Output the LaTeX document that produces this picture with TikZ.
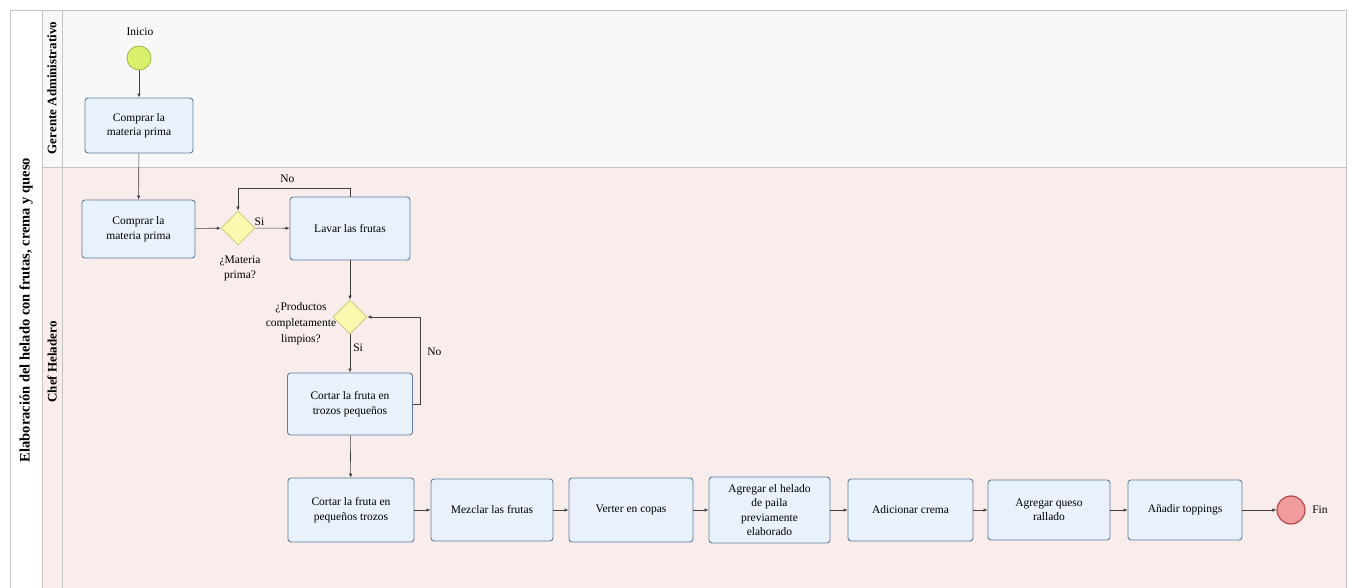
\documentclass[tikz,border=0pt]{standalone}
\usepackage{fontspec}
\setmainfont{Liberation Serif}
\usetikzlibrary{shapes.geometric,arrows.meta}
\definecolor{boxfill}{HTML}{E8F1FC}
\definecolor{boxline}{HTML}{5F7D9C}
\definecolor{gatefill}{HTML}{FBF8B0}
\definecolor{gateline}{HTML}{C9C27A}
\definecolor{startfill}{HTML}{D9F06C}
\definecolor{startline}{HTML}{98B848}
\definecolor{endfill}{HTML}{F09C9C}
\definecolor{endline}{HTML}{B84848}
\definecolor{laneA}{HTML}{F8F8F8}
\definecolor{laneB}{HTML}{F9EDEC}
\definecolor{poolline}{HTML}{C4C4C4}
\definecolor{flowline}{HTML}{404040}
\tikzset{
  task/.style={draw=boxline, fill=boxfill, rounded corners=3pt, line width=0.9pt,
    align=center, font=\fontsize{11.5}{14.5}\selectfont, inner sep=1pt},
  gate/.style={diamond, draw=gateline, fill=gatefill, line width=0.8pt,
    minimum width=34pt, minimum height=34pt, inner sep=0pt},
  startev/.style={circle, draw=startline, fill=startfill, line width=0.8pt, minimum size=24pt, inner sep=0pt},
  endev/.style={circle, draw=endline, fill=endfill, line width=1.2pt, minimum size=28pt, inner sep=0pt},
  flow/.style={draw=flowline, line width=0.6pt, -{Latex[length=4pt,width=3.5pt]}},
  lbl/.style={font=\fontsize{11.5}{15}\selectfont, align=center, inner sep=1pt},
  lanetitle/.style={font=\bfseries\fontsize{13}{15}\selectfont, rotate=90}
}
\begin{document}
\begin{tikzpicture}[x=1pt,y=-1pt]
\useasboundingbox (0,0) rectangle (1352,588);
\fill[white] (0,0) rectangle (1352,588);
% lanes
\fill[laneA] (62,10) rectangle (1346,167);
\fill[laneB] (62,167) rectangle (1346,588);
\fill[white] (10,10) rectangle (42,588);
\fill[laneA] (42,10) rectangle (62,167);
\fill[laneB] (42,167) rectangle (62,588);
\draw[poolline, line width=0.8pt] (10,588) -- (10,10) -- (1346,10) -- (1346,588);
\draw[poolline, line width=0.8pt] (42,10) -- (42,588);
\draw[poolline, line width=0.6pt] (62,10) -- (62,588);
\draw[poolline, line width=0.8pt] (42,167) -- (1346,167);
\node[lanetitle, font=\bfseries\fontsize{14.5}{16}\selectfont] (pooltitle) at (26,310) {Elaboración del helado con frutas, crema y queso};
\node[lanetitle] (laneGA) at (52,88) {Gerente Administrativo};
\node[lanetitle] (laneCH) at (52,362) {Chef Heladero};

% nodes
\node[startev] (start) at (139,58) {};
\node[lbl] (startlbl) at (140,32) {Inicio};
\node[task, minimum width=108pt, minimum height=55pt] (buy1) at (139,125.5) {Comprar la\\materia prima};
\node[task, minimum width=113pt, minimum height=58pt] (buy2) at (138.5,229) {Comprar la\\materia prima};
\node[gate] (g1) at (238,228) {};
\node[lbl] (g1lbl) at (240,268) {¿Materia\\prima?};
\node[task, minimum width=120pt, minimum height=63pt] (wash) at (350,228.5) {Lavar las frutas};
\node[gate] (g2) at (350,317) {};
\node[lbl, align=center, font=\fontsize{11.5}{16}\selectfont] (g2lbl) at (301,324) {¿Productos\\completamente\\limpios?};
\node[task, minimum width=125pt, minimum height=62pt] (cut1) at (350,404) {Cortar la fruta en\\trozos pequeños};
\node[task, minimum width=126pt, minimum height=64pt] (cut2) at (351,510) {Cortar la fruta en\\pequeños trozos};
\node[task, minimum width=122pt, minimum height=62pt] (mix) at (492,510) {Mezclar las frutas};
\node[task, minimum width=124pt, minimum height=64pt] (pour) at (631,510) {Verter en copas};
\node[task, minimum width=121pt, minimum height=66pt] (add1) at (769.5,510) {Agregar el helado\\de paila\\previamente\\elaborado};
\node[task, minimum width=125pt, minimum height=62pt] (cream) at (910.5,510) {Adicionar crema};
\node[task, minimum width=122pt, minimum height=60pt] (cheese) at (1049,510) {Agregar queso\\rallado};
\node[task, minimum width=114pt, minimum height=60pt] (top) at (1185,510) {Añadir toppings};
\node[endev] (fin) at (1291,510) {};
\node[lbl] (finlbl) at (1320,510) {Fin};

% flows
\draw[flow] (start) -- (buy1);
\draw[flow] (buy1) -- (buy2);
\draw[flow] (buy2) -- (g1);
\draw[flow] (g1) -- node[lbl, pos=0.12, above=1pt] (si1) {Si} (wash);
\draw[flow] (wash.north) -- ++(0,-8) -| node[lbl, pos=0.28, above=5pt] (no1) {No} (g1.north);
\draw[flow] (wash) -- (g2);
\draw[flow] (g2) -- node[lbl, pos=0.35, right=2pt] (si2) {Si} (cut1);
\draw[flow] (cut1.east) -- ++(7,0) |- node[lbl, pos=0.3, right=6pt] (no2) {No} (g2.east);
\draw[flow] (cut1) -- (cut2);
\draw[flow] (cut2) -- (mix);
\draw[flow] (mix) -- (pour);
\draw[flow] (pour) -- (add1);
\draw[flow] (add1) -- (cream);
\draw[flow] (cream) -- (cheese);
\draw[flow] (cheese) -- (top);
\draw[flow] (top) -- (fin);
\end{tikzpicture}
\end{document}
